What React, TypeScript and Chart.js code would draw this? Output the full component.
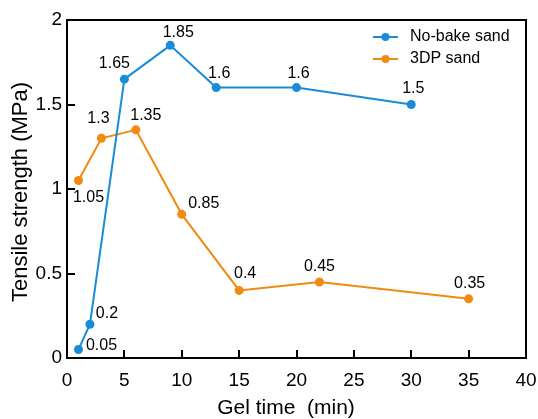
import React, { useEffect, useRef } from "react";
import { Chart, registerables } from "chart.js";

Chart.register(...registerables);

// ---- data ----
const seriesNames = ["No-bake sand", "3DP sand"];
const gelTimeNoBake = [1, 2, 5, 9, 13, 20, 30];
const strengthNoBake = [0.05, 0.2, 1.65, 1.85, 1.6, 1.6, 1.5];
const gelTime3DP = [1, 3, 6, 10, 15, 22, 35];
const strength3DP = [1.05, 1.3, 1.35, 0.85, 0.4, 0.45, 0.35];
const xTickValues = [0, 5, 10, 15, 20, 25, 30, 35, 40];
const yTickValues = [0, 0.5, 1, 1.5, 2];
const xTitle = "Gel time  (min)";
const yTitle = "Tensile strength (MPa)";

// ---- styling ----
const colors = ["#1a8bd6", "#f28a12"];
const FONT = "'Liberation Sans', Arial, sans-serif";
// label offsets (px) relative to each point, per series
const labelOffsets = [
  [[23, -4], [17, -11], [-10, -16], [8, -13], [3, -14], [2, -14], [2, -16]],
  [[10, 17], [-3, -20], [10, -14], [22, -11], [6, -17], [0, -15], [1, -15]],
];

const decoPlugin = {
  id: "deco",
  afterDraw(chart: any) {
    const { ctx, chartArea } = chart;
    const xs = chart.scales.x;
    const ys = chart.scales.y;
    ctx.save();
    // top & right frame
    ctx.strokeStyle = "#000";
    ctx.lineWidth = 2;
    ctx.beginPath();
    ctx.moveTo(chartArea.left - 1, chartArea.top);
    ctx.lineTo(chartArea.right, chartArea.top);
    ctx.lineTo(chartArea.right, chartArea.bottom + 1);
    ctx.stroke();

    // inward tick marks
    ctx.lineWidth = 2;
    ctx.beginPath();
    xTickValues.forEach((v) => {
      const px = Math.round(xs.getPixelForValue(v));
      ctx.moveTo(px, chartArea.bottom);
      ctx.lineTo(px, chartArea.bottom - 8);
    });
    yTickValues.forEach((v) => {
      const py = Math.round(ys.getPixelForValue(v));
      ctx.moveTo(chartArea.left, py);
      ctx.lineTo(chartArea.left + 8, py);
    });
    ctx.stroke();

    // data labels
    ctx.fillStyle = "#000";
    ctx.font = `16px ${FONT}`;
    ctx.textAlign = "center";
    ctx.textBaseline = "middle";
    chart.data.datasets.forEach((ds: any, di: number) => {
      const meta = chart.getDatasetMeta(di);
      meta.data.forEach((pt: any, i: number) => {
        const [dx, dy] = labelOffsets[di][i];
        ctx.fillText(String(ds.data[i].y), pt.x + dx, pt.y + dy);
      });
    });

    // legend
    const lx = 373, ly = 37, rowH = 22;
    chart.data.datasets.forEach((ds: any, di: number) => {
      const y = ly + di * rowH;
      ctx.strokeStyle = ds.borderColor;
      ctx.lineWidth = 2;
      ctx.beginPath();
      ctx.moveTo(lx, y);
      ctx.lineTo(lx + 25, y);
      ctx.stroke();
      ctx.fillStyle = ds.borderColor;
      ctx.beginPath();
      ctx.arc(lx + 12.5, y, 4, 0, Math.PI * 2);
      ctx.fill();
      ctx.fillStyle = "#000";
      ctx.font = `16px ${FONT}`;
      ctx.textAlign = "left";
      ctx.textBaseline = "middle";
      ctx.fillText(ds.label, lx + 37, y);
    });

    // axis titles
    ctx.fillStyle = "#000";
    ctx.font = `21px ${FONT}`;
    ctx.textAlign = "center";
    ctx.textBaseline = "middle";
    ctx.fillText(xTitle, 286, 408);
    ctx.save();
    ctx.translate(21, 192);
    ctx.rotate(-Math.PI / 2);
    ctx.font = `22px ${FONT}`;
    ctx.fillText(yTitle, 0, 0);
    ctx.restore();
    ctx.restore();
  },
};

export default function App() {
  const ref = useRef<HTMLCanvasElement>(null);
  useEffect(() => {
    if (!ref.current) return;
    const mk = (xs: number[], ys: number[]) => xs.map((x, i) => ({ x, y: ys[i] }));
    const chart = new Chart(ref.current, {
      type: "line",
      data: {
        datasets: [
          {
            label: seriesNames[0],
            data: mk(gelTimeNoBake, strengthNoBake),
            borderColor: colors[0],
            backgroundColor: colors[0],
            borderWidth: 2,
            pointRadius: 4.5,
            pointHoverRadius: 4.5,
            pointBorderWidth: 0,
            tension: 0,
          },
          {
            label: seriesNames[1],
            data: mk(gelTime3DP, strength3DP),
            borderColor: colors[1],
            backgroundColor: colors[1],
            borderWidth: 2,
            pointRadius: 4.5,
            pointHoverRadius: 4.5,
            pointBorderWidth: 0,
            tension: 0,
          },
        ],
      },
      options: {
        animation: false,
        responsive: false,
        devicePixelRatio: 1,
        layout: { padding: { left: 0, right: 12, top: 20, bottom: 0 } },
        plugins: { legend: { display: false }, tooltip: { enabled: false } },
        scales: {
          x: {
            type: "linear",
            min: 0,
            max: 40,
            afterBuildTicks: (s: any) => {
              s.ticks = xTickValues.map((v) => ({ value: v }));
            },
            afterFit: (s: any) => {
              s.height = 61;
              s.paddingLeft = 0;
              s.paddingRight = 0;
            },
            ticks: {
              color: "#000",
              font: { family: FONT, size: 19 },
              padding: 11,
              maxRotation: 0,
              callback: (v: any) => String(v),
            },
            grid: { drawOnChartArea: false, drawTicks: false },
            border: { display: true, color: "#000", width: 2 },
          },
          y: {
            type: "linear",
            min: 0,
            max: 2,
            afterBuildTicks: (s: any) => {
              s.ticks = yTickValues.map((v) => ({ value: v }));
            },
            afterFit: (s: any) => {
              s.width = 67;
              s.paddingTop = 0;
              s.paddingBottom = 0;
            },
            ticks: {
              color: "#000",
              font: { family: FONT, size: 19 },
              padding: 5,
              callback: (v: any) => String(v),
            },
            grid: { drawOnChartArea: false, drawTicks: false },
            border: { display: true, color: "#000", width: 2 },
          },
        },
      },
      plugins: [decoPlugin],
    });
    return () => chart.destroy();
  }, []);
  return (
    <div style={{ position: "fixed", left: 0, top: 0, width: 538, height: 419, background: "#fff" }}>
      <canvas ref={ref} width={538} height={419} style={{ width: 538, height: 419 }} />
    </div>
  );
}
